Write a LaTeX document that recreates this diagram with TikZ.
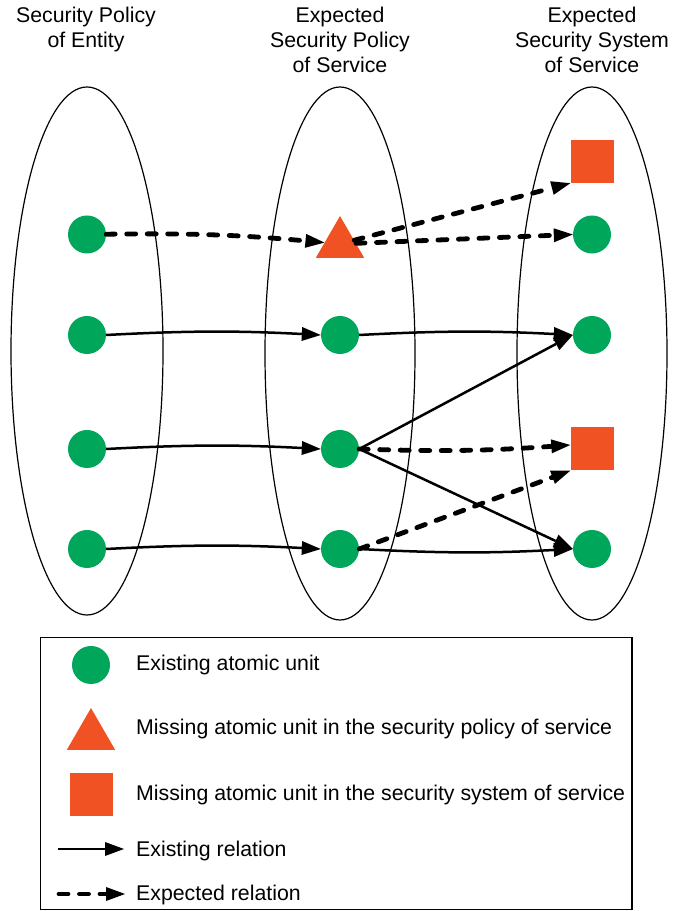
\documentclass[tikz,border=0pt]{standalone}
\usepackage{fontspec}
\setmainfont{Liberation Sans}
\usetikzlibrary{arrows.meta,shapes.geometric}
\definecolor{unitgreen}{RGB}{0,166,90}
\definecolor{missorange}{RGB}{240,82,36}
\tikzset{
  every node/.style={inner sep=0pt},
  txt/.style={font=\fontsize{21.3}{25}\selectfont},
  head/.style={txt, anchor=base},
  legtxt/.style={txt, anchor=base west},
  domainoval/.style={draw=black, line width=1.2pt},
  unit/.style={circle, fill=unitgreen, minimum size=38pt},
  misspolicy/.style={regular polygon, regular polygon sides=3, fill=missorange, minimum size=56pt},
  misssystem/.style={rectangle, fill=missorange, minimum size=43pt},
  tipshape/.style={-{Triangle[length=19pt,width=14pt,line width=0pt]}},
  existrel/.style={tipshape, line width=2.5pt},
  expectrel/.style={tipshape, line width=4.8pt, line cap=round, dash pattern=on 9pt off 11.5pt},
}
\begin{document}
\begin{tikzpicture}[x=1pt,y=1pt]
\useasboundingbox (0,0) rectangle (683,911);

% column headings
\node[head] (h1a) at (86,888.3) {Security Policy};
\node[head] (h1b) at (86,863.3) {of Entity};
\node[head] (h2a) at (340,888.3) {Expected};
\node[head] (h2b) at (340,863.3) {Security Policy};
\node[head] (h2c) at (340,838.3) {of Service};
\node[head] (h3a) at (592,888.3) {Expected};
\node[head] (h3b) at (592,863.3) {Security System};
\node[head] (h3c) at (592,838.3) {of Service};

% the three domains
\draw[domainoval] (87,560) ellipse [x radius=76, y radius=264];
\draw[domainoval] (340,557.5) ellipse [x radius=75, y radius=266.5];
\draw[domainoval] (592,557.5) ellipse [x radius=75, y radius=266.5];

% atomic units of the entity policy
\node[unit] (L1) at (87,676.5) {};
\node[unit] (L2) at (87,576) {};
\node[unit] (L3) at (87,462) {};
\node[unit] (L4) at (87,362) {};

% atomic units of the expected service policy
\node[misspolicy] (T) at (340,667) {};
\node[unit] (M2) at (340,576) {};
\node[unit] (M3) at (340,462) {};
\node[unit] (M4) at (340,362) {};

% atomic units of the expected service security system
\node[misssystem] (S1) at (592,749.5) {};
\node[unit] (R1) at (592,676.5) {};
\node[unit] (R2) at (592,576) {};
\node[misssystem] (S2) at (592,462) {};
\node[unit] (R4) at (592,362) {};

% relations
\draw[expectrel] (L1) to[bend left=3] (T);
\draw[expectrel] (T) -- (S1.south west);
\draw[expectrel] (T) -- (R1.west);
\draw[existrel] (L2.east) to[bend left=3] (M2.west);
\draw[existrel] (L3.east) to[bend left=3] (M3.west);
\draw[existrel] (L4.east) to[bend left=3] (M4.west);
\draw[existrel] (M2.east) to[bend left=3] (R2.west);
\draw[existrel] (M3.east) -- (R2.west);
\draw[expectrel] (M3.east) to[bend right=3] ([yshift=4pt]S2.west);
\draw[existrel] (M3.east) -- (R4.west);
\draw[expectrel] (M4.east) -- (S2.south west);
\draw[existrel] (M4.east) to[bend right=3] (R4.west);

% legend
\draw[line width=1.2pt] (40.5,1.5) rectangle (632,273.5);
\node[unit] (kU) at (91,246) {};
\node[legtxt] (kUt) at (136,240) {Existing atomic unit};
\node[misspolicy] (kP) at (91,175) {};
\node[legtxt] (kPt) at (136,176) {Missing atomic unit in the security policy of service};
\node[misssystem] (kS) at (91,116.7) {};
\node[legtxt] (kSt) at (136,110.4) {Missing atomic unit in the security system of service};
\coordinate (kE1) at (58,62);
\coordinate (kE2) at (124,62);
\draw[existrel] (kE1) -- (kE2);
\node[legtxt] (kEt) at (136,54.3) {Existing relation};
\coordinate (kX1) at (59,17);
\coordinate (kX2) at (125,17);
\draw[expectrel] (kX1) -- (kX2);
\node[legtxt] (kXt) at (136,10) {Expected relation};
\end{tikzpicture}
\end{document}
